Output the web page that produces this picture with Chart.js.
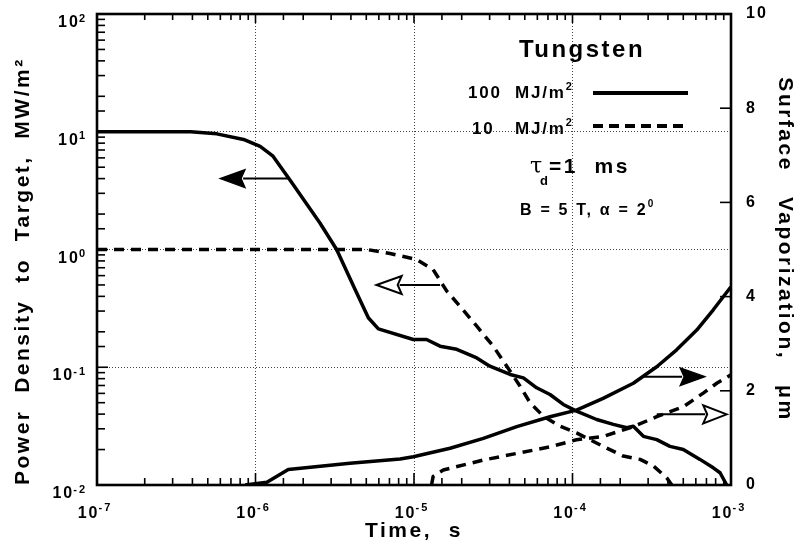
<!DOCTYPE html>
<html>
<head>
<meta charset="utf-8">
<script src="https://cdn.jsdelivr.net/npm/chart.js@4.4.1/dist/chart.umd.min.js"></script>
<style>
html,body{margin:0;padding:0;background:#fff;}
#wrap{width:807px;height:560px;position:relative;}
</style>
</head>
<body>
<div id="wrap"><canvas id="c" width="807" height="560"></canvas></div>
<script>
// ---------- DATA ----------
// Power density to target (left axis, MW/m^2), 100 MJ/m^2 case
const time100Power = [1e-7, 3.9e-7, 5.7e-7, 8.4e-7, 1.07e-6, 1.29e-6, 1.65e-6, 2.55e-6, 3.25e-6, 4.15e-6, 5.15e-6, 5.96e-6, 9.9e-6, 1.2e-5, 1.46e-5, 1.86e-5, 2.49e-5, 3.01e-5, 4.04e-5, 4.9e-5, 5.94e-5, 7.21e-5, 8.75e-5, 1.06e-4, 1.42e-4, 1.81e-4, 2.2e-4, 2.42e-4, 2.8e-4, 3.4e-4, 4.12e-4, 5.0e-4, 6.37e-4, 7.73e-4, 8.53e-4, 9.4e-4];
const power100 = [10, 10, 9.6, 8.6, 7.5, 6.2, 3.9, 1.68, 1.0, 0.49, 0.263, 0.212, 0.172, 0.172, 0.151, 0.142, 0.120, 0.102, 0.0868, 0.0813, 0.0669, 0.0587, 0.0483, 0.0424, 0.036, 0.0327, 0.0306, 0.0316, 0.0259, 0.0243, 0.0213, 0.020, 0.0165, 0.014, 0.0127, 0.010];
// Power density, 10 MJ/m^2 case
const time10Power = [1e-7, 5.04e-6, 7.06e-6, 1.04e-5, 1.32e-5, 1.61e-5, 1.95e-5, 2.49e-5, 3.16e-5, 3.85e-5, 4.67e-5, 5.4e-5, 6.55e-5, 8.34e-5, 1.06e-4, 1.56e-4, 2.09e-4, 2.67e-4, 3.24e-4, 3.93e-4, 4.23e-4];
const power10 = [1.0, 1.0, 0.925, 0.822, 0.676, 0.443, 0.330, 0.223, 0.151, 0.102, 0.069, 0.0499, 0.0384, 0.0316, 0.0277, 0.0213, 0.0176, 0.0165, 0.0145, 0.0115, 0.010];
// Surface vaporization (right axis, micrometres), 100 MJ/m^2 case
const time100Vap = [8.6e-7, 1.18e-6, 1.61e-6, 3.94e-6, 8.17e-6, 9.9e-6, 1.69e-5, 2.74e-5, 4.45e-5, 7.21e-5, 1.06e-4, 1.56e-4, 2.42e-4, 3.4e-4, 4.54e-4, 6.08e-4, 7.73e-4, 1e-3];
const vap100 = [0, 0.06, 0.33, 0.46, 0.55, 0.60, 0.78, 0.99, 1.24, 1.45, 1.59, 1.84, 2.16, 2.51, 2.87, 3.29, 3.72, 4.21];
// Surface vaporization, 10 MJ/m^2 case
const time10Vap = [1.29e-5, 1.32e-5, 1.53e-5, 2.74e-5, 4.45e-5, 7.21e-5, 1.06e-4, 1.56e-4, 2.42e-4, 3.4e-4, 5.0e-4, 6.68e-4, 8.13e-4, 1e-3];
const vap10 = [0, 0.18, 0.32, 0.53, 0.67, 0.81, 0.96, 1.03, 1.24, 1.45, 1.66, 1.95, 2.16, 2.34];

// Tick labels (base "10" with exponent drawn as superscript)
const xTickExps = [-7, -6, -5, -4, -3];
const xTickLabels = ['-7', '-6', '-5', '-4', '-3'];
const yTickExps = [-2, -1, 0, 1, 2];
const yTickLabels = ['-2', '-1', '0', '1', '2'];
const y2TickValues = [0, 2, 4, 6, 8, 10];
const y2TickLabels = ['0', '2', '4', '6', '8', '10'];

// Annotation arrows (data coordinates)
const arrows = [
  {axis: 'y',  y: 4.0, tail: 1.6e-6, base: 8.6e-7, tip: 5.97e-7, filled: true},
  {axis: 'y',  y: 0.5, tail: 1.46e-5, base: 8.36e-6, tip: 5.8e-6, filled: false},
  {axis: 'y2', y: 2.3, tail: 2.8e-4, base: 4.77e-4, tip: 6.85e-4, filled: true},
  {axis: 'y2', y: 1.5, tail: 3.4e-4, base: 6.68e-4, tip: 9.4e-4, filled: false}
];

// ---------- CHART ----------
const FONT = '"Liberation Sans", Arial, Helvetica, sans-serif';
const zip = (xs, ys) => xs.map((x, i) => ({x: x, y: ys[i]}));
const expOf = v => Math.log10(v);
const isDecade = v => Math.abs(expOf(v) - Math.round(expOf(v))) < 1e-6;

const gridColorFor = (scaleMin, scaleMax) => (c) => {
  if (!c.tick) return 'rgba(0,0,0,0)';
  const v = c.tick.value;
  if (v <= scaleMin * 1.0001 || v >= scaleMax * 0.9999) return 'rgba(0,0,0,0)';
  return isDecade(v) ? '#444' : 'rgba(0,0,0,0)';
};

const spacingPlugin = {
  id: 'spacing',
  beforeDraw(chart) { chart.ctx.letterSpacing = '2.5px'; }
};

function line(ctx, x1, y1, x2, y2) { ctx.beginPath(); ctx.moveTo(x1, y1); ctx.lineTo(x2, y2); ctx.stroke(); }

const BASE_FONT = 'bold 16px ' + FONT;
const EXP_FONT = 'bold 11px ' + FONT;
function powLabelWidth(ctx, exp) {
  ctx.font = BASE_FONT; const w1 = ctx.measureText('10').width;
  ctx.font = EXP_FONT; const w2 = ctx.measureText(exp).width;
  return [w1, w2];
}
function drawPow(ctx, exp, xLeft, baseY, expY) {
  const [w1] = powLabelWidth(ctx, exp);
  ctx.font = BASE_FONT; ctx.fillText('10', xLeft, baseY);
  ctx.font = EXP_FONT; ctx.fillText(exp, xLeft + w1 - 1, expY);
}

const frameTicksPlugin = {
  id: 'frameTicks',
  afterDraw(chart) {
    const {ctx, chartArea: ca, scales} = chart;
    const x = scales.x, y = scales.y, y2 = scales.y2;
    ctx.save();
    ctx.strokeStyle = '#000';
    ctx.lineWidth = 1.6;
    x.ticks.forEach(t => {
      const v = t.value;
      if (v <= x.min * 1.0001 || v >= x.max * 0.9999) return;
      const px = x.getPixelForValue(v);
      const major = isDecade(v);
      line(ctx, px, ca.bottom, px, ca.bottom - (major ? 12 : 7));
      line(ctx, px, ca.top, px, ca.top + (major ? 9 : 6));
    });
    y.ticks.forEach(t => {
      const v = t.value;
      if (v <= y.min * 1.0001 || v >= y.max * 0.9999) return;
      const py = y.getPixelForValue(v);
      line(ctx, ca.left, py, ca.left + (isDecade(v) ? 11 : 8), py);
    });
    y2TickValues.forEach(v => {
      if (v <= y2.min || v >= y2.max) return;
      const py = y2.getPixelForValue(v);
      line(ctx, ca.right, py, ca.right - 11, py);
    });
    ctx.lineWidth = 2.6;
    ctx.strokeRect(ca.left, ca.top, ca.right - ca.left, ca.bottom - ca.top);

    // Tick labels with superscript exponents
    ctx.fillStyle = '#000';
    ctx.textAlign = 'left';
    ctx.textBaseline = 'alphabetic';
    ctx.letterSpacing = '2px';
    xTickExps.forEach((e, i) => {
      const px = x.getPixelForValue(Math.pow(10, e));
      const lab = xTickLabels[i];
      const [w1, w2] = powLabelWidth(ctx, lab);
      const total = w1 + w2 - 1;
      drawPow(ctx, lab, px - total / 2 - 2, ca.bottom + 33, ca.bottom + 26);
    });
    yTickExps.forEach((e, i) => {
      const py = y.getPixelForValue(Math.pow(10, e));
      const lab = yTickLabels[i];
      const [w1, w2] = powLabelWidth(ctx, lab);
      const total = w1 + w2 - 1;
      drawPow(ctx, lab, ca.left - 10 - total, py + 13, py + 7.5);
    });
    // Right axis labels
    ctx.font = 'bold 16px ' + FONT;
    ctx.textBaseline = 'middle';
    y2TickValues.forEach((v, i) => {
      const py = y2.getPixelForValue(v);
      ctx.fillText(y2TickLabels[i], ca.right + 15, py);
    });
    ctx.restore();
  }
};

const arrowsPlugin = {
  id: 'arrows',
  afterDatasetsDraw(chart) {
    const {ctx, scales} = chart;
    ctx.save();
    ctx.strokeStyle = '#000';
    ctx.fillStyle = '#000';
    arrows.forEach(a => {
      const ys = scales[a.axis];
      const py = ys.getPixelForValue(a.y);
      const pTail = scales.x.getPixelForValue(a.tail);
      const pBase = scales.x.getPixelForValue(a.base);
      const pTip = scales.x.getPixelForValue(a.tip);
      const half = 9;
      const dir = Math.sign(pTip - pBase);
      ctx.lineWidth = 2;
      line(ctx, pTail, py, pBase + dir * 2, py);
      ctx.beginPath();
      ctx.moveTo(pTip, py);
      ctx.lineTo(pBase, py - half);
      ctx.lineTo(pBase + dir * 4, py);
      ctx.lineTo(pBase, py + half);
      ctx.closePath();
      if (a.filled) { ctx.fill(); ctx.lineWidth = 1.2; ctx.stroke(); }
      else { ctx.fillStyle = '#fff'; ctx.fill(); ctx.fillStyle = '#000'; ctx.lineWidth = 2; ctx.stroke(); }
    });
    ctx.restore();
  }
};

function supText(ctx, base, sup, x, y, font, supFont, rise) {
  ctx.font = font;
  ctx.fillText(base, x, y);
  const w = ctx.measureText(base).width;
  ctx.font = supFont;
  ctx.fillText(sup, x + w, y - rise);
  return x + w + ctx.measureText(sup).width;
}

const legendPlugin = {
  id: 'legendBlock',
  afterDraw(chart) {
    const {ctx, chartArea: ca} = chart;
    const ox = ca.left - 97, oy = ca.top - 14;
    ctx.save();
    ctx.fillStyle = '#000';
    ctx.textBaseline = 'alphabetic';
    ctx.textAlign = 'left';
    // Title
    ctx.letterSpacing = '2.5px';
    ctx.font = 'bold 24px ' + FONT;
    const tw = ctx.measureText('Tungsten').width;
    ctx.fillText('Tungsten', ox + 582 - tw / 2, oy + 57);
    // Series entries
    ctx.letterSpacing = '1.8px';
    ctx.font = 'bold 17px ' + FONT;
    ctx.fillText('100', ox + 468, oy + 98);
    supText(ctx, 'MJ/m', '2', ox + 515, oy + 98, 'bold 17px ' + FONT, 'bold 11px ' + FONT, 8);
    ctx.font = 'bold 17px ' + FONT;
    ctx.fillText('10', ox + 472, oy + 134);
    supText(ctx, 'MJ/m', '2', ox + 515, oy + 134, 'bold 17px ' + FONT, 'bold 11px ' + FONT, 8);
    ctx.strokeStyle = '#000';
    ctx.lineWidth = 4;
    line(ctx, ox + 593, oy + 93, ox + 688, oy + 93);
    ctx.setLineDash([10, 6]);
    line(ctx, ox + 593, oy + 126, ox + 688, oy + 126);
    ctx.setLineDash([]);
    // tau_d = 1 ms
    ctx.letterSpacing = '0px';
    ctx.font = '22px "DejaVu Serif", "Liberation Serif", serif';
    ctx.fillText('\u03C4', ox + 530, oy + 173);
    ctx.font = 'bold 13px ' + FONT;
    ctx.fillText('d', ox + 540, oy + 185);
    ctx.letterSpacing = '2.5px';
    ctx.font = 'bold 21px ' + FONT;
    ctx.fillText('=1  ms', ox + 549, oy + 173);
    // B = 5 T, alpha = 2^0
    ctx.letterSpacing = '2.2px';
    supText(ctx, 'B = 5 T, \u03B1 = 2', '0', ox + 520, oy + 215, 'bold 16px ' + FONT, 'bold 10px ' + FONT, 8);
    ctx.restore();
  }
};

const lineStyle = {borderColor: '#000', borderWidth: 3.5, pointRadius: 0, pointHoverRadius: 0, tension: 0, fill: false, borderJoinStyle: 'round', borderCapStyle: 'butt'};

new Chart(document.getElementById('c'), {
  type: 'line',
  data: {
    datasets: [
      Object.assign({label: 'Power 100 MJ/m2', data: zip(time100Power, power100), yAxisID: 'y'}, lineStyle),
      Object.assign({label: 'Power 10 MJ/m2', data: zip(time10Power, power10), yAxisID: 'y', borderDash: [10, 7]}, lineStyle),
      Object.assign({label: 'Vaporization 100 MJ/m2', data: zip(time100Vap, vap100), yAxisID: 'y2'}, lineStyle),
      Object.assign({label: 'Vaporization 10 MJ/m2', data: zip(time10Vap, vap10), yAxisID: 'y2', borderDash: [10, 7]}, lineStyle)
    ]
  },
  options: {
    responsive: false,
    devicePixelRatio: 1,
    animation: false,
    layout: {padding: {top: 14, left: 0, right: 0, bottom: 0}},
    plugins: {legend: {display: false}, tooltip: {enabled: false}, title: {display: false}},
    scales: {
      x: {
        type: 'logarithmic', position: 'bottom', min: 1e-7, max: 1e-3,
        afterFit: s => { s.height = 75; },
        ticks: {display: false, autoSkip: false, maxRotation: 0},
        grid: {drawTicks: false, lineWidth: 1, color: gridColorFor(1e-7, 1e-3)},
        border: {display: false, dash: [1, 2]},
        title: {display: true, text: 'Time,  s', color: '#000', font: {family: FONT, size: 21, weight: 'bold'}, padding: {top: 0, bottom: 16}}
      },
      y: {
        type: 'logarithmic', position: 'left', min: 1e-2, max: 1e2,
        afterFit: s => { s.width = 97; },
        ticks: {display: false, autoSkip: false},
        grid: {drawTicks: false, lineWidth: 1, color: gridColorFor(1e-2, 1e2)},
        border: {display: false, dash: [1, 2]},
        title: {display: true, text: 'Power  Density  to  Target,  MW/m\u00B2', align: 'start', color: '#000', font: {family: FONT, size: 21, weight: 'bold'}, padding: {top: 11, bottom: 0}}
      },
      y2: {
        type: 'linear', position: 'right', min: 0, max: 10,
        afterFit: s => { s.width = 76; },
        ticks: {display: false, stepSize: 2},
        grid: {drawOnChartArea: false, drawTicks: false},
        border: {display: false},
        title: {display: true, text: 'Surface   Vaporization,   \u03BCm', color: '#000', font: {family: FONT, size: 21, weight: 'bold'}, padding: {top: 10, bottom: 0}}
      }
    }
  },
  plugins: [spacingPlugin, arrowsPlugin, frameTicksPlugin, legendPlugin]
});
</script>
</body>
</html>
